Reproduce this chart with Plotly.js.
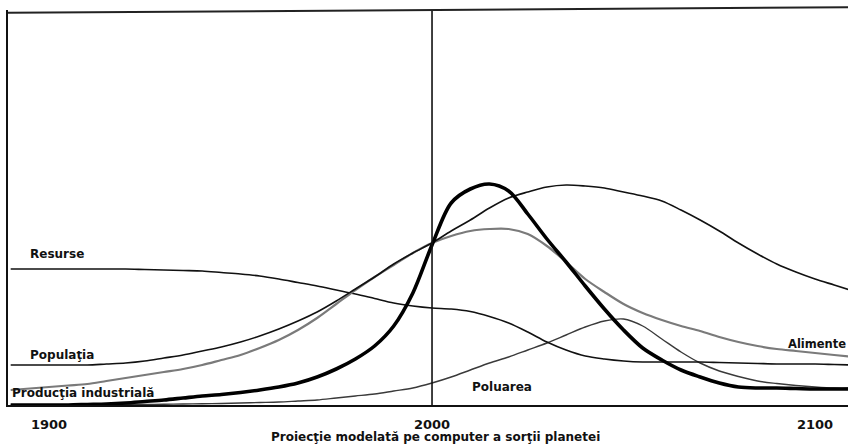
<!DOCTYPE html>
<html>
<head>
<meta charset="utf-8">
<script src="https://cdn.plot.ly/plotly-3.0.1.min.js"></script>
<style>html,body{margin:0;padding:0;background:#fff;}#chart{width:848px;height:445px;}</style>
</head>
<body>
<div id="chart"></div>
<script>
const years = [1890,1895,1900,1905,1910,1915,1920,1925,1930,1935,1940,1945,1950,1955,1960,1965,1970,1975,1980,1985,1990,1995,2000,2005,2010,2015,2020,2025,2030,2035,2040,2045,2050,2055,2060,2065,2070,2075,2080,2085,2090,2095,2100,2105,2110];
const resurse = [136,136,136,136,136,136,136,135.5,135,134.5,134,132.5,131,129,126,122.5,119,115,111,106.5,102,99,97,96,93.5,88.5,82,73,63,55,49,46,44,43,43,43,43,42.5,42,41.5,41,41,41,40.5,40];
const populatia = [40,40,40,40,40,41,42,44,47,50,54,58,63,69,76,84,93,104,116,128,141,152,162,174,185,197,207,213,218,220,219,217,213,209,204,195,185,174,162,151,141,133,126,120,114];
const alimente = [15,16.5,18,19.5,21,24,27,30,33,36,40,45,50,57,65,75,87,101,115,128,140,152,162,169,174,176,176,171,159,143,126,113,101,92,85,79,74,68,63,59,56,54,52,50,48];
const productia = [0,0,0,0,0.5,1,2,3.5,5,7,9,10.5,12.5,15,18,22,28,36,46,59,79,112,160,202,216,221,214,191,166,143,119,96,75,57,45,35,28,22,18,17,17,16.5,16,16,16];
const poluarea = [0,0,0,0,0,0,0.3,0.5,0.7,1,1.2,1.5,2,2.5,3,4,5,7,9,11,14,17,22,28,35,42,48,55,62,70,78,84,86,79,66,53,42,34,28.5,24,21.5,19.5,18,17,17];

const tickVals = [1900, 2000, 2100];
const tickText = ['1900', '2000', '2100'];
const xTitle = 'Proiecţie modelată pe computer a sorţii planetei';

const labels = [
  {text: 'Resurse', x: 1894.5, y: 151, size: 12},
  {text: 'Populaţia', x: 1894.5, y: 50, size: 12},
  {text: 'Producţia industrială', x: 1889.8, y: 12, size: 12},
  {text: 'Poluarea', x: 2009.9, y: 18, size: 12},
  {text: 'Alimente', x: 2092.3, y: 61, size: 11.5}
];

const FONT = 'DejaVu Sans, Verdana, sans-serif';

function tr(name, y, color, width) {
  return {
    x: years, y: y, name: name, type: 'scatter', mode: 'lines',
    line: {color: color, width: width, shape: 'spline', smoothing: 0.9},
    cliponaxis: false, hoverinfo: 'skip'
  };
}

const data = [
  tr('Poluarea', poluarea, '#3a3a3a', 1.4),
  tr('Resurse', resurse, '#111', 1.6),
  tr('Alimente', alimente, '#7a7a7a', 2.2),
  tr('Populaţia', populatia, '#111', 1.6),
  tr('Producţia industrială', productia, '#000', 3.6)
];

const layout = {
  width: 848, height: 445,
  margin: {l: 8, r: 0, t: 10, b: 40},
  paper_bgcolor: '#fff', plot_bgcolor: '#fff',
  showlegend: false,
  xaxis: {
    range: [1889.3, 2108.6], showgrid: false, zeroline: false,
    showline: true, linecolor: '#111', linewidth: 2,
    tickvals: tickVals, ticktext: tickText, ticks: '', ticklabelstandoff: 6,
    tickfont: {family: FONT, size: 13, color: '#111', weight: 'bold'}
  },
  yaxis: {
    range: [0, 395], showgrid: false, zeroline: false,
    showline: true, linecolor: '#111', linewidth: 2,
    showticklabels: false, ticks: ''
  },
  shapes: [
    {type: 'line', xref: 'x', yref: 'paper', x0: 2000, x1: 2000, y0: 0, y1: 1, line: {color: '#111', width: 1.6}},
    {type: 'line', xref: 'paper', yref: 'paper', x0: 0, x1: 1, y0: 0.993, y1: 1.007, line: {color: '#222', width: 2}}
  ],
  annotations: labels.map(l => ({
    text: l.text, x: l.x, y: l.y, xref: 'x', yref: 'y',
    xanchor: 'left', yanchor: 'middle', showarrow: false,
    font: {family: FONT, size: l.size, color: '#111', weight: 'bold'}
  })).concat([{
    text: xTitle, xref: 'paper', yref: 'paper', x: 0.509, y: -0.08,
    xanchor: 'center', yanchor: 'middle', showarrow: false,
    font: {family: FONT, size: 12, color: '#111', weight: 'bold'}
  }])
};

Plotly.newPlot('chart', data, layout, {displayModeBar: false, staticPlot: true});
</script>
</body>
</html>
